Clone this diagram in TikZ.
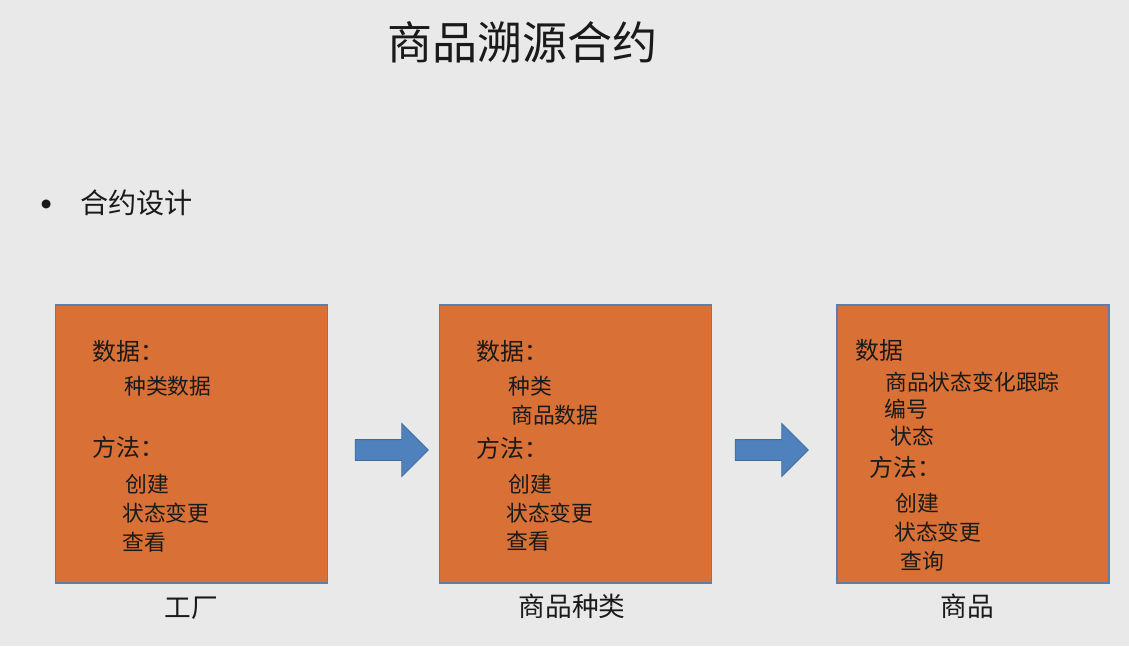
\documentclass[tikz,border=0pt]{standalone}
\usepackage{fontspec}
\setmainfont{Noto Sans CJK SC}
\usetikzlibrary{shapes.arrows}
\definecolor{slide}{HTML}{E9E9E9}
\definecolor{ink}{HTML}{1A1A1A}
\definecolor{boxfill}{HTML}{D97036}
\definecolor{boxstroke}{HTML}{5B7FA8}
\definecolor{flowfill}{HTML}{4F81BD}
\definecolor{flowstroke}{HTML}{3E6C9C}

\begin{document}
\begin{tikzpicture}[
  x=0.025cm, y=-0.025cm,
  text=ink,
  card/.style={draw=boxstroke, fill=boxfill, line width=0.9pt,
    minimum width=6.8cm, minimum height=6.95cm, inner sep=0pt},
  flow/.style={single arrow, draw=flowstroke, fill=flowfill, line width=0.6pt,
    minimum height=1.825cm, minimum width=1.3cm, inner sep=0.25cm,
    single arrow head extend=0.4cm},
  head/.style={anchor=west, inner sep=0pt, font=\fontsize{17}{20}\selectfont},
  item/.style={anchor=west, inner sep=0pt, font=\fontsize{15.5}{18}\selectfont},
  caption/.style={inner sep=0pt, font=\fontsize{19}{22}\selectfont}
]

\fill[slide] (0,0) rectangle (1129,646);

\node[inner sep=0pt, font=\fontsize{32}{36}\selectfont] (title) at (522,42) {商品溯源合约};
\node[inner sep=0pt, font=\fontsize{30}{32}\selectfont] (dot) at (47,210) {•};
\node[anchor=west, inner sep=0pt, font=\fontsize{20}{24}\selectfont] (design) at (80,203) {合约设计};

% three contract boxes
\node[card] (factory) at (191.5,444) {};
\node[card] (kind) at (575.5,444) {};
\node[card] (goods) at (973,444) {};

\node[flow] (flowa) at (386.5,450) {};
\node[flow] (flowb) at (766.5,450) {};

% factory
\node[head] (fdata) at (92,351) {数据：};
\node[item] (fkind) at (124,386) {种类数据};
\node[head] (fmeth) at (92,447) {方法：};
\node[item] (fnew) at (125,484) {创建};
\node[item] (fstate) at (122,513) {状态变更};
\node[item] (fview) at (122,542) {查看};
\node[caption] (flabel) at (191,608) {工厂};

% goods kind
\node[head] (kdata) at (476,351) {数据：};
\node[item] (kkind) at (508,386) {种类};
\node[item] (kgoods) at (511,415) {商品数据};
\node[head] (kmeth) at (476,448) {方法：};
\node[item] (knew) at (508,484) {创建};
\node[item] (kstate) at (506,513) {状态变更};
\node[item] (kview) at (506,541) {查看};
\node[caption] (klabel) at (572,606) {商品种类};

% goods
\node[head] (gdata) at (855,350) {数据};
\node[item] (gtrack) at (885,382) {商品状态变化跟踪};
\node[item] (gno) at (884,409) {编号};
\node[item] (gstate) at (890,436) {状态};
\node[head] (gmeth) at (869,467) {方法：};
\node[item] (gnew) at (895,503) {创建};
\node[item] (gchange) at (894,532) {状态变更};
\node[item] (gquery) at (900,561) {查询};
\node[caption] (glabel) at (967,606) {商品};
\end{tikzpicture}
\end{document}
